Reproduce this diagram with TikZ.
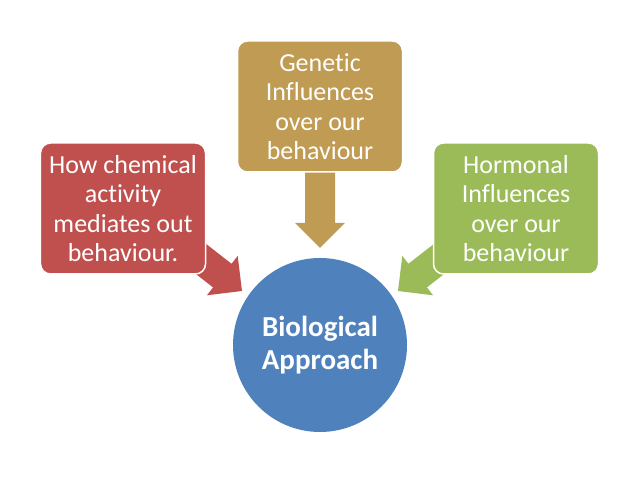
\documentclass[tikz,border=0pt]{standalone}
\usepackage{fontspec}
\setmainfont{Carlito}[Ligatures=CommonOff]
\definecolor{cred}{HTML}{C0504D}
\definecolor{cgold}{RGB}{192,155,83}
\definecolor{cgreen}{HTML}{9BBB59}
\definecolor{cblue}{HTML}{4F81BD}
\begin{document}
\begin{tikzpicture}[x=1bp,y=1bp,
  boxstyle/.style={draw=white, line width=1.5bp, rounded corners=10bp, minimum width=165bp, minimum height=131bp, inner sep=0pt, text=white, align=center, font=\fontsize{26bp}{29.5bp}\selectfont}]
\useasboundingbox (0,0) rectangle (638,479);
% block arrows (drawn first, behind boxes)
\begin{scope}[shift={(320,231)}, rotate=-90]
  \fill[cgold] (0,0) -- (-25,25) -- (-25,15) -- (-80,15) -- (-80,-15) -- (-25,-15) -- (-25,-25) -- cycle;
\end{scope}
\begin{scope}[shift={(242,188)}, rotate=-38]
  \fill[cred] (0,0) -- (-25,25) -- (-25,15) -- (-90,15) -- (-90,-15) -- (-25,-15) -- (-25,-25) -- cycle;
\end{scope}
\begin{scope}[shift={(398,188)}, rotate=218]
  \fill[cgreen] (0,0) -- (-25,25) -- (-25,15) -- (-90,15) -- (-90,-15) -- (-25,-15) -- (-25,-25) -- cycle;
\end{scope}
% boxes
\node[boxstyle, fill=cgold] (gen) at (320,372.5) {Genetic\\Influences\\over our\\behaviour};
\node[boxstyle, fill=cred] (chem) at (123,270.5) {How chemical\\activity\\mediates out\\behaviour.};
\node[boxstyle, fill=cgreen] (horm) at (516,270.5) {Hormonal\\Influences\\over our\\behaviour};
% circle
\node[circle, fill=cblue, minimum size=174bp, inner sep=0pt, text=white, align=center, font=\fontsize{29bp}{33bp}\selectfont\bfseries] (bio) at (320,134) {Biological\\Approach};
\end{tikzpicture}
\end{document}
